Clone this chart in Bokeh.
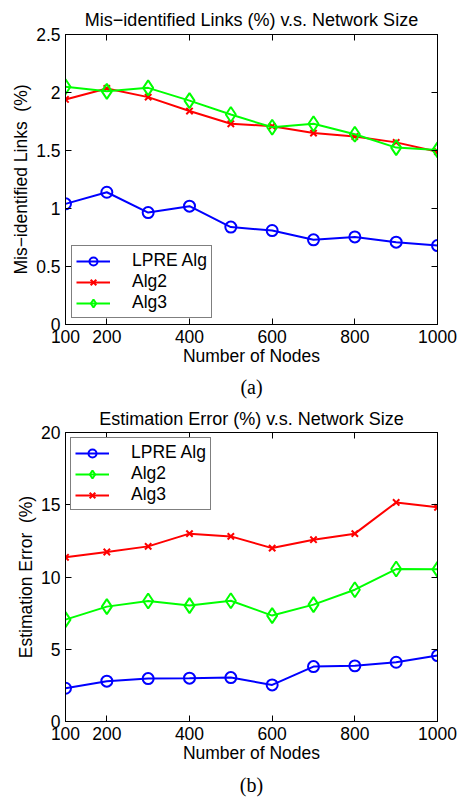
from bokeh.plotting import figure
from bokeh.layouts import column
from bokeh.models import (FixedTicker, LinearAxis, Title, Legend, LegendItem,
                          CustomJSTickFormatter, Range1d)
from bokeh.embed import file_html
from bokeh.resources import INLINE

# ---------------- data ----------------
nodes = [100, 200, 300, 400, 500, 600, 700, 800, 900, 1000]

# (a) Mis-identified links (%)
a_lpre = [1.04, 1.14, 0.965, 1.02, 0.84, 0.81, 0.73, 0.755, 0.71, 0.68]
a_alg2 = [1.94, 2.035, 1.96, 1.84, 1.73, 1.71, 1.65, 1.62, 1.57, 1.49]
a_alg3 = [2.05, 2.01, 2.04, 1.93, 1.81, 1.70, 1.73, 1.64, 1.525, 1.505]

# (b) Estimation error (%)
b_lpre = [2.30, 2.79, 2.97, 3.00, 3.04, 2.53, 3.80, 3.85, 4.10, 4.56]
b_alg2 = [7.05, 7.95, 8.34, 8.02, 8.36, 7.33, 8.09, 9.12, 10.55, 10.53]
b_alg3 = [11.36, 11.73, 12.12, 13.00, 12.81, 12.00, 12.58, 13.00, 15.16, 14.82]

x_ticks = [100, 200, 400, 600, 800, 1000]
a_y_ticks = [0, 0.5, 1, 1.5, 2, 2.5]
a_y_labels = ["0", "0.5", "1", "1.5", "2", "2.5"]
b_y_ticks = [0, 5, 10, 15, 20]
b_y_labels = ["0", "5", "10", "15", "20"]

FONT = "Liberation Sans"
FS = "17.5px"
TFS = "18px"
BLUE, RED, GREEN = "#0000ff", "#ff0000", "#00ff00"


def style_axis(ax, ticks, labels=None, hide=False):
    ax.ticker = FixedTicker(ticks=ticks)
    ax.major_tick_in = 6
    ax.major_tick_out = 0
    ax.minor_tick_line_color = None
    ax.axis_line_color = "black"
    ax.major_tick_line_color = "black"
    ax.major_label_text_font = FONT
    ax.major_label_text_font_size = FS
    ax.major_label_text_color = "black"
    ax.major_label_standoff = 5
    ax.axis_label_text_font = FONT
    ax.axis_label_text_font_size = FS
    ax.axis_label_text_font_style = "normal"
    ax.axis_label_text_color = "black"
    ax.axis_label_standoff = 0
    if hide:
        ax.formatter = CustomJSTickFormatter(code="return ''")
        ax.major_label_standoff = 0
    elif labels is not None:
        ax.major_label_overrides = {t: l for t, l in zip(ticks, labels)}


def panel(title, ylabel, series, ymax, yticks, ylabels, legend_loc, legend_margin,
          caption, h, btop, bbottom, tstand, cstand):
    p = figure(width=461, height=h, output_backend="svg",
               toolbar_location=None, x_range=Range1d(100, 1000),
               y_range=Range1d(0, ymax), min_border_left=65, min_border_right=24,
               min_border_top=btop, min_border_bottom=bbottom,
               background_fill_color="white", border_fill_color="white")
    p.outline_line_color = "black"
    p.grid.visible = False
    p.title.text = title
    p.title.align = "center"
    p.title.text_font = FONT
    p.title.text_font_size = TFS
    p.title.text_font_style = "normal"
    p.title.text_color = "black"
    p.title.standoff = tstand

    p.xaxis.axis_label = "Number of Nodes"
    p.yaxis.axis_label = ylabel
    style_axis(p.xaxis[0], x_ticks)
    style_axis(p.yaxis[0], yticks, ylabels)
    p.yaxis[0].axis_label_standoff = 2
    top_ax = LinearAxis()
    style_axis(top_ax, x_ticks, hide=True)
    right_ax = LinearAxis()
    style_axis(right_ax, yticks, hide=True)
    p.add_layout(top_ax, "above")
    p.add_layout(right_ax, "right")

    items = []
    for label, vals, color, marker, size in series:
        ln = p.line(nodes, vals, line_color=color, line_width=2)
        sc = p.scatter(nodes, vals, marker=marker, size=size, line_color=color,
                       line_width=2, fill_color=None)
        items.append(LegendItem(label=label, renderers=[ln, sc]))
    leg = Legend(items=items, location=legend_loc, margin=legend_margin,
                 glyph_width=34, glyph_height=20, label_standoff=22,
                 padding=4, spacing=0,
                 label_text_font=FONT, label_text_font_size=FS,
                 label_text_color="black", label_height=20,
                 border_line_color="black", border_line_width=1.5,
                 background_fill_color="white", background_fill_alpha=1.0)
    p.add_layout(leg, "center")

    cap = Title(text=caption, align="center", text_font="Liberation Serif",
                text_font_size="20px", text_font_style="normal",
                text_color="black", standoff=cstand)
    p.add_layout(cap, "below")
    return p


pa = panel("Mis\u2212identified Links (%) v.s. Network Size",
           "Mis\u2212identified Links\u00a0 (%)",
           [("LPRE Alg", a_lpre, BLUE, "circle", 11),
            ("Alg2", a_alg2, RED, "x", 9),
            ("Alg3", a_alg3, GREEN, "diamond", 15)],
           2.5, a_y_ticks, a_y_labels, "bottom_left", 6, "(a)",
           402, 34, 78, 9, 10)

pb = panel("Estimation Error (%) v.s. Network Size",
           "Estimation Error\u00a0 (%)",
           [("LPRE Alg", b_lpre, BLUE, "circle", 11),
            ("Alg2", b_alg2, GREEN, "diamond", 15),
            ("Alg3", b_alg3, RED, "x", 9)],
           20, b_y_ticks, b_y_labels, "top_left", 5, "(b)",
           400, 30, 81, 7, 12)

layout = column(pa, pb, spacing=0)
open("out.html", "w").write(file_html(layout, INLINE))
